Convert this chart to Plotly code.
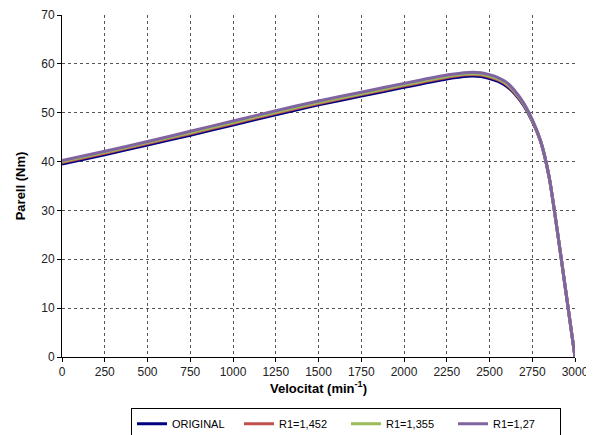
import plotly.graph_objects as go

speed = [0, 250, 500, 750, 1000, 1250, 1500, 1750, 2000, 2250, 2350, 2400, 2450,
         2500, 2550, 2600, 2650, 2700, 2750, 2800, 2850, 2900, 2950, 3000]
original = [39.5, 41.4, 43.4, 45.4, 47.5, 49.6, 51.6, 53.4, 55.2, 56.9, 57.4, 57.5, 57.4,
            57.0, 56.4, 55.4, 53.8, 51.5, 48.3, 44.0, 36.6, 25.0, 12.5, 0]
r1_1452 = [39.8, 41.7, 43.7, 45.7, 47.8, 49.9, 51.9, 53.7, 55.5, 57.2, 57.7, 57.8, 57.7,
           57.3, 56.7, 55.7, 54.0, 51.7, 48.4, 44.0, 36.6, 25.0, 12.5, 0]
r1_1355 = [40.0, 41.9, 43.9, 45.9, 48.0, 50.1, 52.1, 53.9, 55.7, 57.4, 57.9, 58.0, 57.9,
           57.5, 56.9, 55.9, 54.2, 51.8, 48.5, 44.1, 36.6, 25.0, 12.5, 0]
r1_127 = [40.2, 42.1, 44.1, 46.2, 48.3, 50.4, 52.4, 54.2, 56.0, 57.7, 58.2, 58.3, 58.2,
          57.8, 57.2, 56.2, 54.4, 52.0, 48.6, 44.1, 36.6, 25.0, 12.5, 0]

names = ["ORIGINAL", "R1=1,452", "R1=1,355", "R1=1,27"]
colors = ["#000080", "#C0504D", "#9BBB59", "#8064A2"]
series = [original, r1_1452, r1_1355, r1_127]

fig = go.Figure()
for n, c, s in zip(names, colors, series):
    fig.add_trace(go.Scatter(x=speed, y=s, name=n, mode="lines",
                             line=dict(color=c, width=3, shape="spline", smoothing=0.6)))

font = "Liberation Sans, Arial, sans-serif"
fig.update_layout(
    width=586, height=427,
    margin=dict(l=54, r=19, t=7, b=78, autoexpand=False),
    paper_bgcolor="white", plot_bgcolor="white",
    font=dict(family=font, size=12, color="#222222"),
    showlegend=True,
    legend=dict(orientation="h", x=0.1345, y=-0.15, xanchor="left", yanchor="top",
                bordercolor="#000000", borderwidth=1, font=dict(size=11, color="#000000"),
                entrywidth=62, entrywidthmode="pixels", tracegroupgap=0),
    xaxis=dict(range=[0, 3000], tickvals=list(range(0, 3001, 250)),
               showgrid=True, gridcolor="#555555", griddash="dot", gridwidth=1,
               showline=True, linecolor="#000000", linewidth=1,
               ticks="outside", ticklen=4, tickcolor="#000000",
               zeroline=False, automargin=False,
               title=dict(text="<b>Velocitat (min<sup>-1</sup>)</b>",
                          font=dict(size=13, color="#000000"), standoff=2)),
    yaxis=dict(range=[0, 70], tickvals=list(range(0, 71, 10)),
               showgrid=True, gridcolor="#555555", griddash="dot", gridwidth=1,
               showline=True, linecolor="#000000", linewidth=1,
               ticks="outside", ticklen=4, tickcolor="#000000",
               zeroline=False, automargin=False,
               title=dict(text="<b>Parell (Nm)</b>",
                          font=dict(size=13, color="#000000"), standoff=12)),
)
fig.write_html("out.html")
